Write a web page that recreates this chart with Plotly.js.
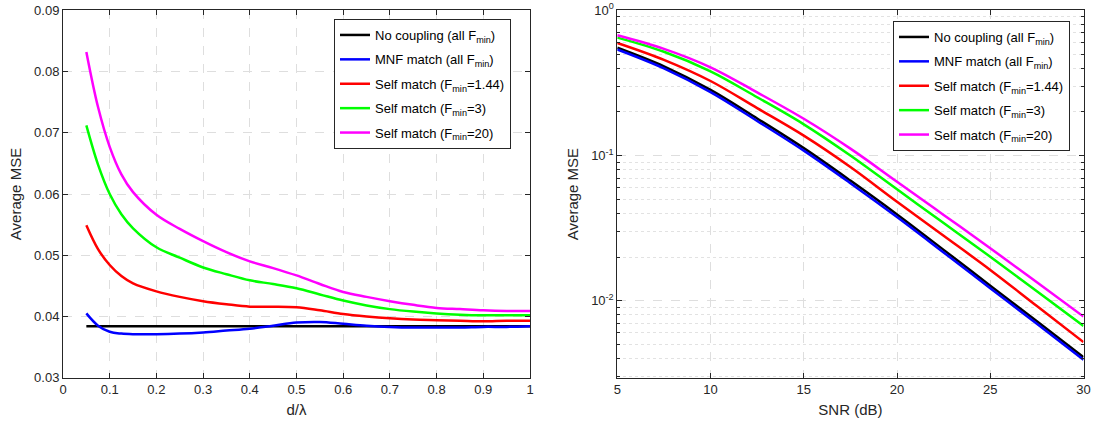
<!DOCTYPE html>
<html>
<head>
<meta charset="utf-8">
<script src="https://cdn.plot.ly/plotly-3.0.1.min.js"></script>
<style>html,body{margin:0;padding:0;background:#fff;}#chart{width:1093px;height:425px;}</style>
</head>
<body>
<div id="chart"></div>
<script>
// ---- Left panel: Average MSE vs d/lambda ----
const dLambda = [0.05,0.075,0.1,0.125,0.15,0.2,0.25,0.3,0.35,0.4,0.45,0.5,0.55,0.6,0.65,0.7,0.75,0.8,0.85,0.9,0.95,1.0];
const noCouplingD = [0.0384,0.0384,0.0384,0.0384,0.0384,0.0384,0.0384,0.0384,0.0384,0.0384,0.0384,0.0384,0.0384,0.0384,0.0384,0.0384,0.0384,0.0384,0.0384,0.0384,0.0384,0.0384];
const mnfMatchD   = [0.0405,0.0385,0.0375,0.0372,0.0371,0.0371,0.0372,0.0374,0.0377,0.0380,0.0385,0.0390,0.0391,0.0388,0.0385,0.0383,0.0382,0.0382,0.0382,0.0383,0.0383,0.0384];
const self144D    = [0.0549,0.0510,0.0484,0.0466,0.0454,0.0441,0.0432,0.0425,0.0420,0.0416,0.0416,0.0415,0.0410,0.0404,0.0400,0.0397,0.0395,0.0394,0.0393,0.0392,0.0393,0.0393];
const self3D      = [0.0712,0.0648,0.0600,0.0567,0.0544,0.0513,0.0496,0.0480,0.0469,0.0459,0.0453,0.0446,0.0436,0.0426,0.0418,0.0412,0.0408,0.0405,0.0403,0.0402,0.0402,0.0402];
const self20D     = [0.0832,0.0742,0.0677,0.0632,0.0603,0.0566,0.0543,0.0523,0.0505,0.0490,0.0479,0.0467,0.0453,0.0440,0.0432,0.0425,0.0419,0.0414,0.0412,0.0410,0.0409,0.0409];

// ---- Right panel: Average MSE vs SNR ----
const snrDb = [5,7.5,10,12.5,15,17.5,20,22.5,25,27.5,30];
const noCouplingS = [0.552,0.411,0.283,0.180,0.1125,0.0672,0.0393,0.0224,0.0127,0.00722,0.00408];
const mnfMatchS   = [0.537,0.398,0.273,0.173,0.108,0.0645,0.0377,0.0215,0.0122,0.00694,0.00392];
const self144S    = [0.596,0.456,0.326,0.212,0.137,0.0833,0.048,0.028,0.0163,0.0092,0.00519];
const self3S      = [0.648,0.518,0.380,0.252,0.164,0.100,0.0585,0.0343,0.0201,0.0116,0.00671];
const self20S     = [0.673,0.543,0.405,0.272,0.179,0.1115,0.066,0.039,0.023,0.0134,0.00778];

const seriesNames = [
  'No coupling (all F<sub>min</sub>)',
  'MNF match (all F<sub>min</sub>)',
  'Self match (F<sub>min</sub>=1.44)',
  'Self match (F<sub>min</sub>=3)',
  'Self match (F<sub>min</sub>=20)'
];
const seriesColors = ['#000000','#0000ff','#ff0000','#00ff00','#ff00ff'];

const leftY = [noCouplingD, mnfMatchD, self144D, self3D, self20D];
const rightY = [noCouplingS, mnfMatchS, self144S, self3S, self20S];

const traces = [];
leftY.forEach((ys, i) => {
  traces.push({
    x: dLambda, y: ys, type: 'scatter', mode: 'lines',
    name: seriesNames[i], legendgroup: 'L' + i,
    line: {color: seriesColors[i], width: 2.5, shape: 'spline', smoothing: 1},
    xaxis: 'x', yaxis: 'y', legend: 'legend'
  });
});
rightY.forEach((ys, i) => {
  traces.push({
    x: snrDb, y: ys, type: 'scatter', mode: 'lines',
    name: seriesNames[i], legendgroup: 'R' + i,
    line: {color: seriesColors[i], width: 2.5, shape: 'spline', smoothing: 1},
    xaxis: 'x2', yaxis: 'y2', legend: 'legend2'
  });
});

const W = 1093, H = 425;
const axCol = '#262626';
const gridCol = '#dedede';
const fontFam = '"Liberation Sans", Arial, Helvetica, sans-serif';

const minorVals = [];
[0.001, 0.01, 0.1].forEach(d => { for (let k = 2; k <= 9; k++) minorVals.push(+(k*d).toPrecision(3)); });

const baseAxis = {
  showline: true, linecolor: axCol, linewidth: 1, mirror: 'ticks',
  ticks: 'inside', ticklen: 5, tickcolor: axCol, tickwidth: 1,
  showgrid: true, gridcolor: gridCol, griddash: 'dash', gridwidth: 1,
  zeroline: false, tickfont: {family: fontFam, size: 13, color: axCol},
  automargin: false
};

const legendBase = {
  xanchor: 'left', yanchor: 'top',
  bgcolor: '#ffffff', bordercolor: axCol, borderwidth: 1,
  traceorder: 'grouped', tracegroupgap: 4.5,
  font: {family: fontFam, size: 13, color: '#000000'}
};

const layout = {
  width: W, height: H,
  margin: {l: 0, r: 0, t: 0, b: 0},
  paper_bgcolor: '#ffffff', plot_bgcolor: '#ffffff',
  font: {family: fontFam, color: axCol},
  showlegend: true,
  xaxis: Object.assign({}, baseAxis, {
    domain: [63/W, 530/W], range: [0, 1], dtick: 0.1, tick0: 0,
    anchor: 'y',
    title: {text: 'd/λ', font: {family: fontFam, size: 15, color: axCol}, standoff: 8}
  }),
  yaxis: Object.assign({}, baseAxis, {
    domain: [(H-377.7)/H, (H-10.3)/H], range: [0.03, 0.09], dtick: 0.01, tick0: 0.03,
    anchor: 'x', tickformat: '.2f',
    title: {text: 'Average MSE', font: {family: fontFam, size: 15, color: axCol}, standoff: 8}
  }),
  xaxis2: Object.assign({}, baseAxis, {
    domain: [617.3/W, 1083.5/W], range: [5, 30], dtick: 5, tick0: 5,
    anchor: 'y2',
    title: {text: 'SNR (dB)', font: {family: fontFam, size: 15, color: axCol}, standoff: 8}
  }),
  yaxis2: Object.assign({}, baseAxis, {
    domain: [(H-377.7)/H, (H-10.3)/H], type: 'log', range: [-2.53, 0],
    anchor: 'x2',
    tickvals: [0.01, 0.1, 1],
    ticktext: ['10<sup>-2</sup>', '10<sup>-1</sup>', '10<sup>0</sup>'],
    minor: {tickvals: minorVals, ticks: 'inside', ticklen: 3, tickcolor: axCol,
            showgrid: true, gridcolor: '#e2e2e2', griddash: 'dot', gridwidth: 1},
    title: {text: 'Average MSE', font: {family: fontFam, size: 15, color: axCol}, standoff: 8}
  }),
  legend: Object.assign({}, legendBase, {x: 334/W, y: (H-19)/H}),
  legend2: Object.assign({}, legendBase, {x: 893/W, y: (H-21)/H})
};

Plotly.newPlot('chart', traces, layout, {staticPlot: true, displayModeBar: false});
</script>
</body>
</html>
